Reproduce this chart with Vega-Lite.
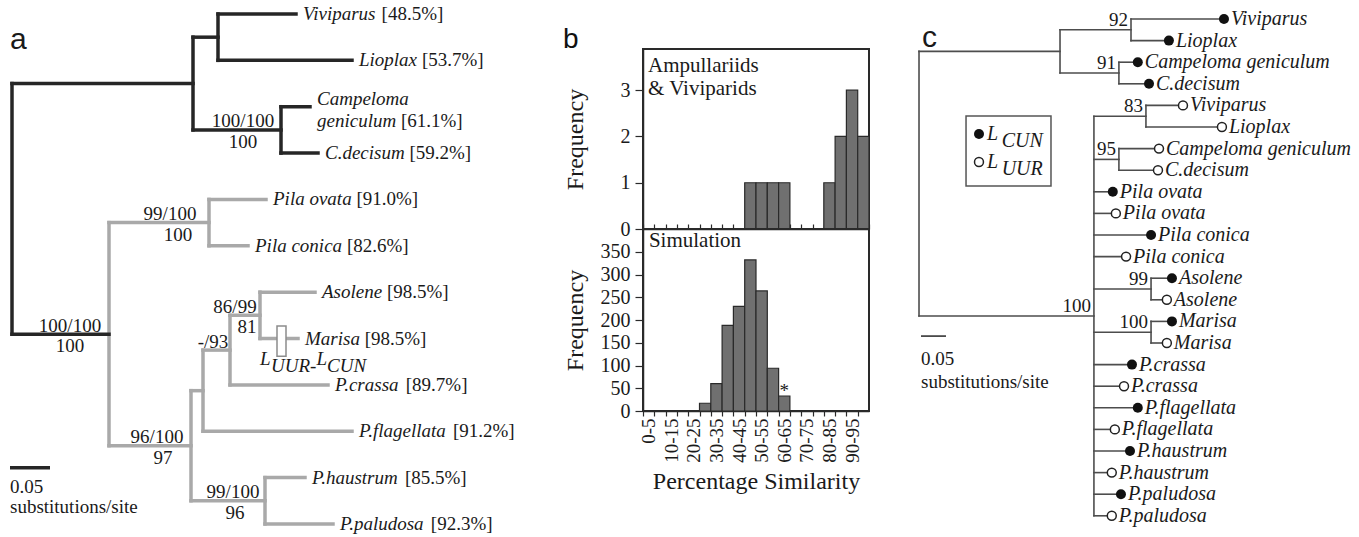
{
  "$schema": "https://vega.github.io/schema/vega-lite/v6.json",
  "padding": 0,
  "background": "white",
  "spacing": 0,
  "config": {
    "font": "Liberation Serif",
    "axis": {"grid": false, "labelFont": "Liberation Serif", "titleFont": "Liberation Serif", "titleFontWeight": "normal", "labelColor": "#1a1a1a", "titleColor": "#1a1a1a", "domainColor": "#2a2a2a", "tickColor": "#2a2a2a", "domainWidth": 1.5, "tickWidth": 1.2},
    "text": {"font": "Liberation Serif", "color": "#1a1a1a"}
  },
  "datasets": {
    "aSeg": [
      {"x": 0.12125, "x2": 0.12125, "y": 4.5, "y2": 9.3125, "c": "a"},
      {"x": 0.12125, "x2": 0.24625, "y": 4.5, "y2": 4.5, "c": "a"},
      {"x": 0.24625, "x2": 0.24625, "y": 4, "y2": 5, "c": "a"},
      {"x": 0.24625, "x2": 0.3175, "y": 4, "y2": 4, "c": "a"},
      {"x": 0.24625, "x2": 0.295, "y": 5, "y2": 5, "c": "a"},
      {"x": 0.12125, "x2": 0.22375, "y": 9.3125, "y2": 9.3125, "c": "a"},
      {"x": 0.22375, "x2": 0.22375, "y": 8.125, "y2": 10.5, "c": "a"},
      {"x": 0.22375, "x2": 0.23875, "y": 8.125, "y2": 8.125, "c": "a"},
      {"x": 0.23875, "x2": 0.23875, "y": 7.25, "y2": 9, "c": "a"},
      {"x": 0.23875, "x2": 0.2725, "y": 7.25, "y2": 7.25, "c": "a"},
      {"x": 0.2725, "x2": 0.2725, "y": 6.5, "y2": 8, "c": "a"},
      {"x": 0.2725, "x2": 0.31, "y": 6.5, "y2": 6.5, "c": "a"},
      {"x": 0.31, "x2": 0.31, "y": 6, "y2": 7, "c": "a"},
      {"x": 0.31, "x2": 0.37875, "y": 6, "y2": 6, "c": "a"},
      {"x": 0.31, "x2": 0.3575, "y": 7, "y2": 7, "c": "a"},
      {"x": 0.2725, "x2": 0.395, "y": 8, "y2": 8, "c": "a"},
      {"x": 0.23875, "x2": 0.425, "y": 9, "y2": 9, "c": "a"},
      {"x": 0.22375, "x2": 0.31625, "y": 10.5, "y2": 10.5, "c": "a"},
      {"x": 0.31625, "x2": 0.31625, "y": 10, "y2": 11, "c": "a"},
      {"x": 0.31625, "x2": 0.36625, "y": 10, "y2": 10, "c": "a"},
      {"x": 0.31625, "x2": 0.40125, "y": 11, "y2": 11, "c": "a"},
      {"x": 0, "x2": 0, "y": 1.5, "y2": 6.906, "c": "v"},
      {"x": 0, "x2": 0.12125, "y": 6.906, "y2": 6.906, "c": "v"},
      {"x": 0, "x2": 0.22625, "y": 1.5, "y2": 1.5, "c": "v"},
      {"x": 0.22625, "x2": 0.22625, "y": 0.5, "y2": 2.5, "c": "v"},
      {"x": 0.22625, "x2": 0.2575, "y": 0.5, "y2": 0.5, "c": "v"},
      {"x": 0.2575, "x2": 0.2575, "y": 0, "y2": 1, "c": "v"},
      {"x": 0.2575, "x2": 0.355, "y": 0, "y2": 0, "c": "v"},
      {"x": 0.2575, "x2": 0.425, "y": 1, "y2": 1, "c": "v"},
      {"x": 0.22625, "x2": 0.33625, "y": 2.5, "y2": 2.5, "c": "v"},
      {"x": 0.33625, "x2": 0.33625, "y": 2, "y2": 3, "c": "v"},
      {"x": 0.33625, "x2": 0.3725, "y": 2, "y2": 2, "c": "v"},
      {"x": 0.33625, "x2": 0.3825, "y": 3, "y2": 3, "c": "v"}
    ],
    "aLab": [
      {"t": "Viviparus", "x": 0.355, "y": 0},
      {"t": "Lioplax", "x": 0.425, "y": 1},
      {"t": "Campeloma", "x": 0.3725, "y": 1.83},
      {"t": "geniculum", "x": 0.3725, "y": 2.31},
      {"t": "C.decisum", "x": 0.3825, "y": 3},
      {"t": "Pila ovata", "x": 0.3175, "y": 4},
      {"t": "Pila conica", "x": 0.295, "y": 5},
      {"t": "Asolene", "x": 0.37875, "y": 6},
      {"t": "Marisa", "x": 0.3575, "y": 7},
      {"t": "P.crassa", "x": 0.395, "y": 8},
      {"t": "P.flagellata", "x": 0.425, "y": 9},
      {"t": "P.haustrum", "x": 0.36625, "y": 10},
      {"t": "P.paludosa", "x": 0.40125, "y": 11}
    ],
    "aPct": [
      {"t": "[48.5%]", "x": 0.462, "y": 0},
      {"t": "[53.7%]", "x": 0.5124, "y": 1},
      {"t": "[61.1%]", "x": 0.4862, "y": 2.31},
      {"t": "[59.2%]", "x": 0.4968, "y": 3},
      {"t": "[91.0%]", "x": 0.4305, "y": 4},
      {"t": "[82.6%]", "x": 0.4186, "y": 5},
      {"t": "[98.5%]", "x": 0.4687, "y": 6},
      {"t": "[98.5%]", "x": 0.4408, "y": 7},
      {"t": "[89.7%]", "x": 0.4922, "y": 8},
      {"t": "[91.2%]", "x": 0.5512, "y": 9},
      {"t": "[85.5%]", "x": 0.4911, "y": 10},
      {"t": "[92.3%]", "x": 0.5235, "y": 11}
    ],
    "aSup": [
      {"t": "100/100", "x": 0.28875, "y": 2.5, "pos": "above"},
      {"t": "100", "x": 0.28875, "y": 2.5, "pos": "below"},
      {"t": "100/100", "x": 0.0725, "y": 6.906, "pos": "above"},
      {"t": "100", "x": 0.0725, "y": 6.906, "pos": "below"},
      {"t": "99/100", "x": 0.1975, "y": 4.5, "pos": "above"},
      {"t": "100", "x": 0.2075, "y": 4.5, "pos": "below"},
      {"t": "96/100", "x": 0.18125, "y": 9.3125, "pos": "above"},
      {"t": "97", "x": 0.18875, "y": 9.3125, "pos": "below"},
      {"t": "-/93", "x": 0.25125, "y": 7.25, "pos": "above"},
      {"t": "86/99", "x": 0.27875, "y": 6.5, "pos": "above"},
      {"t": "81", "x": 0.29375, "y": 6.5, "pos": "below"},
      {"t": "99/100", "x": 0.27625, "y": 10.5, "pos": "above"},
      {"t": "96", "x": 0.27875, "y": 10.5, "pos": "below"}
    ],
    "bTop": [
      {"s": 45, "e": 50, "n": 1},
      {"s": 50, "e": 55, "n": 1},
      {"s": 55, "e": 60, "n": 1},
      {"s": 60, "e": 65, "n": 1},
      {"s": 80, "e": 85, "n": 1},
      {"s": 85, "e": 90, "n": 2},
      {"s": 90, "e": 95, "n": 3},
      {"s": 95, "e": 100, "n": 2}
    ],
    "bSim": [
      {"s": 25, "e": 30, "n": 17},
      {"s": 30, "e": 35, "n": 60},
      {"s": 35, "e": 40, "n": 188},
      {"s": 40, "e": 45, "n": 230},
      {"s": 45, "e": 50, "n": 332},
      {"s": 50, "e": 55, "n": 264},
      {"s": 55, "e": 60, "n": 94},
      {"s": 60, "e": 65, "n": 33}
    ],
    "cSeg": [
      {"x": 0, "x2": 0, "y": 1.5, "y2": 13.75},
      {"x": 0, "x2": 0.2765, "y": 1.5, "y2": 1.5},
      {"x": 0.2765, "x2": 0.2765, "y": 0.5, "y2": 2.5},
      {"x": 0.2765, "x2": 0.4157, "y": 0.5, "y2": 0.5},
      {"x": 0.4157, "x2": 0.4157, "y": 0, "y2": 1},
      {"x": 0.4157, "x2": 0.598, "y": 0, "y2": 0},
      {"x": 0.4157, "x2": 0.49, "y": 1, "y2": 1},
      {"x": 0.2765, "x2": 0.392, "y": 2.5, "y2": 2.5},
      {"x": 0.392, "x2": 0.392, "y": 2, "y2": 3},
      {"x": 0.392, "x2": 0.429, "y": 2, "y2": 2},
      {"x": 0.392, "x2": 0.451, "y": 3, "y2": 3},
      {"x": 0, "x2": 0.343, "y": 13.75, "y2": 13.75},
      {"x": 0.343, "x2": 0.343, "y": 4.5, "y2": 23},
      {"x": 0.343, "x2": 0.445, "y": 4.5, "y2": 4.5},
      {"x": 0.445, "x2": 0.445, "y": 4, "y2": 5},
      {"x": 0.445, "x2": 0.5176, "y": 4, "y2": 4},
      {"x": 0.445, "x2": 0.594, "y": 5, "y2": 5},
      {"x": 0.343, "x2": 0.392, "y": 6.5, "y2": 6.5},
      {"x": 0.392, "x2": 0.392, "y": 6, "y2": 7},
      {"x": 0.392, "x2": 0.4706, "y": 6, "y2": 6},
      {"x": 0.392, "x2": 0.4686, "y": 7, "y2": 7},
      {"x": 0.343, "x2": 0.38, "y": 8, "y2": 8},
      {"x": 0.343, "x2": 0.386, "y": 9, "y2": 9},
      {"x": 0.343, "x2": 0.455, "y": 10, "y2": 10},
      {"x": 0.343, "x2": 0.406, "y": 11, "y2": 11},
      {"x": 0.343, "x2": 0.455, "y": 12.5, "y2": 12.5},
      {"x": 0.455, "x2": 0.455, "y": 12, "y2": 13},
      {"x": 0.455, "x2": 0.496, "y": 12, "y2": 12},
      {"x": 0.455, "x2": 0.486, "y": 13, "y2": 13},
      {"x": 0.343, "x2": 0.455, "y": 14.5, "y2": 14.5},
      {"x": 0.455, "x2": 0.455, "y": 14, "y2": 15},
      {"x": 0.455, "x2": 0.496, "y": 14, "y2": 14},
      {"x": 0.455, "x2": 0.486, "y": 15, "y2": 15},
      {"x": 0.343, "x2": 0.4176, "y": 16, "y2": 16},
      {"x": 0.343, "x2": 0.402, "y": 17, "y2": 17},
      {"x": 0.343, "x2": 0.429, "y": 18, "y2": 18},
      {"x": 0.343, "x2": 0.384, "y": 19, "y2": 19},
      {"x": 0.343, "x2": 0.4137, "y": 20, "y2": 20},
      {"x": 0.343, "x2": 0.378, "y": 21, "y2": 21},
      {"x": 0.343, "x2": 0.396, "y": 22, "y2": 22},
      {"x": 0.343, "x2": 0.378, "y": 23, "y2": 23}
    ],
    "cTip": [
      {"t": "Viviparus", "x": 0.598, "y": 0, "f": true},
      {"t": "Lioplax", "x": 0.49, "y": 1, "f": true},
      {"t": "Campeloma geniculum", "x": 0.429, "y": 2, "f": true},
      {"t": "C.decisum", "x": 0.451, "y": 3, "f": true},
      {"t": "Viviparus", "x": 0.5176, "y": 4, "f": false},
      {"t": "Lioplax", "x": 0.594, "y": 5, "f": false},
      {"t": "Campeloma geniculum", "x": 0.4706, "y": 6, "f": false},
      {"t": "C.decisum", "x": 0.4686, "y": 7, "f": false},
      {"t": "Pila ovata", "x": 0.38, "y": 8, "f": true},
      {"t": "Pila ovata", "x": 0.386, "y": 9, "f": false},
      {"t": "Pila conica", "x": 0.455, "y": 10, "f": true},
      {"t": "Pila conica", "x": 0.406, "y": 11, "f": false},
      {"t": "Asolene", "x": 0.496, "y": 12, "f": true},
      {"t": "Asolene", "x": 0.486, "y": 13, "f": false},
      {"t": "Marisa", "x": 0.496, "y": 14, "f": true},
      {"t": "Marisa", "x": 0.486, "y": 15, "f": false},
      {"t": "P.crassa", "x": 0.4176, "y": 16, "f": true},
      {"t": "P.crassa", "x": 0.402, "y": 17, "f": false},
      {"t": "P.flagellata", "x": 0.429, "y": 18, "f": true},
      {"t": "P.flagellata", "x": 0.384, "y": 19, "f": false},
      {"t": "P.haustrum", "x": 0.4137, "y": 20, "f": true},
      {"t": "P.haustrum", "x": 0.378, "y": 21, "f": false},
      {"t": "P.paludosa", "x": 0.396, "y": 22, "f": true},
      {"t": "P.paludosa", "x": 0.378, "y": 23, "f": false}
    ],
    "cSup": [
      {"t": "92", "x": 0.4157, "y": 0.5},
      {"t": "91", "x": 0.392, "y": 2.5},
      {"t": "83", "x": 0.445, "y": 4.5},
      {"t": "95", "x": 0.392, "y": 6.5},
      {"t": "99", "x": 0.455, "y": 12.5},
      {"t": "100", "x": 0.455, "y": 14.5},
      {"t": "100", "x": 0.343, "y": 13.75}
    ]
  },
  "hconcat": [
    {
      "width": 562,
      "height": 487,
      "view": {"stroke": null},
      "encoding": {
        "x": {"field": "x", "type": "quantitative", "scale": {"domain": [-0.015, 0.6875], "nice": false, "zero": false}, "axis": null},
        "y": {"field": "y", "type": "quantitative", "scale": {"domain": [0.755, 11.2597], "nice": false, "zero": false, "reverse": true}, "axis": null}
      },
      "layer": [
        {
          "data": {"name": "aSeg"},
          "mark": {"type": "rule", "strokeWidth": 3.5, "strokeCap": "square"},
          "encoding": {
            "x2": {"field": "x2"},
            "y2": {"field": "y2"},
            "color": {"field": "c", "type": "nominal", "scale": {"domain": ["a", "v"], "range": ["#a9a9a9", "#262626"]}, "legend": null}
          }
        },
        {
          "data": {"values": [{"x": 0.33125, "x2": 0.3425, "y": 6.73, "y2": 7.38}]},
          "mark": {"type": "rect", "fill": "white", "stroke": "#8c8c8c", "strokeWidth": 1.5},
          "encoding": {"x2": {"field": "x2"}, "y2": {"field": "y2"}}
        },
        {
          "data": {"name": "aLab"},
          "mark": {"type": "text", "align": "left", "baseline": "middle", "dx": 7, "fontSize": 19, "fontStyle": "italic"},
          "encoding": {"text": {"field": "t"}}
        },
        {
          "data": {"name": "aPct"},
          "mark": {"type": "text", "align": "left", "baseline": "middle", "fontSize": 19},
          "encoding": {"text": {"field": "t"}}
        },
        {
          "data": {"name": "aSup"},
          "transform": [{"filter": "datum.pos == 'above'"}],
          "mark": {"type": "text", "align": "center", "baseline": "bottom", "dy": 1.5, "fontSize": 19},
          "encoding": {"text": {"field": "t"}}
        },
        {
          "data": {"name": "aSup"},
          "transform": [{"filter": "datum.pos == 'below'"}],
          "mark": {"type": "text", "align": "center", "baseline": "top", "dy": 3, "fontSize": 19},
          "encoding": {"text": {"field": "t"}}
        },
        {
          "data": {"values": [{"x": -0.0025, "x2": 0.0475, "y": 9.79}]},
          "mark": {"type": "rule", "strokeWidth": 3.5, "color": "#262626"},
          "encoding": {"x2": {"field": "x2"}}
        },
        {
          "data": {"values": [{"x": -0.0025, "y": 10.2, "t": "0.05"}, {"x": -0.0025, "y": 10.63, "t": "substitutions/site"}]},
          "mark": {"type": "text", "align": "left", "baseline": "middle", "fontSize": 19},
          "encoding": {"text": {"field": "t"}}
        },
        {
          "data": {"values": [{"x": 0.31, "y": 7.45, "t": "L"}, {"x": 0.3238, "y": 7.6, "t": "UUR-"}, {"x": 0.3805, "y": 7.45, "t": "L"}, {"x": 0.3938, "y": 7.6, "t": "CUN"}]},
          "mark": {"type": "text", "align": "left", "baseline": "middle", "fontSize": 19, "fontStyle": "italic"},
          "encoding": {"text": {"field": "t"}}
        },
        {
          "data": {"values": [{"x": -0.0025, "y": 0.755, "t": "a"}]},
          "mark": {"type": "text", "align": "left", "baseline": "alphabetic", "font": "Liberation Sans", "fontSize": 30},
          "encoding": {"text": {"field": "t"}}
        }
      ]
    },
    {
      "spacing": 0,
      "bounds": "flush",
      "vconcat": [
        {
          "width": 226,
          "height": 180,
          "title": {"text": ["", "b"], "anchor": "start", "frame": "bounds", "font": "Liberation Sans", "fontSize": 28, "fontWeight": "normal", "color": "#111", "lineHeight": 25, "offset": 0, "dy": 5},
          "view": {"stroke": "#2a2a2a", "strokeWidth": 2},
          "encoding": {
            "x": {"field": "s", "type": "quantitative", "scale": {"domain": [0, 100], "nice": false, "zero": false}, "axis": {"values": [0, 5, 10, 15, 20, 25, 30, 35, 40, 45, 50, 55, 60, 65, 70, 75, 80, 85, 90, 95, 100], "labels": false, "tickSize": -5, "labelPadding": 0, "minExtent": 0, "maxExtent": 0, "title": null}},
            "y": {"field": "n", "type": "quantitative", "scale": {"domain": [0, 3.89], "nice": false}, "axis": {"values": [0, 1, 2, 3], "title": "Frequency", "titleFontSize": 24, "titlePadding": 12, "labelFontSize": 20, "tickSize": 8, "labelPadding": 5, "minExtent": 44, "maxExtent": 44}}
          },
          "layer": [
            {
              "data": {"name": "bTop"},
              "mark": {"type": "bar", "fill": "#707070", "stroke": "#2a2a2a", "strokeWidth": 1.2},
              "encoding": {"x2": {"field": "e"}, "y2": {"datum": 0}}
            },
            {
              "data": {"values": [{"s": 2.2, "n": 3.52, "t": "Ampullariids"}, {"s": 2.2, "n": 3.03, "t": "& Viviparids"}]},
              "mark": {"type": "text", "align": "left", "baseline": "middle", "fontSize": 21},
              "encoding": {"text": {"field": "t"}}
            }
          ]
        },
        {
          "width": 226,
          "height": 182,
          "view": {"stroke": "#2a2a2a", "strokeWidth": 2},
          "encoding": {
            "x": {"field": "s", "type": "quantitative", "scale": {"domain": [0, 100], "nice": false, "zero": false}, "axis": {"values": [0, 5, 10, 15, 20, 25, 30, 35, 40, 45, 50, 55, 60, 65, 70, 75, 80, 85, 90, 95], "labelExpr": "datum.value % 10 == 0 ? datum.value + '-' + (datum.value + 5) : ''", "labelAngle": 270, "labelAlign": "right", "labelBaseline": "middle", "labelOffset": 5.65, "labelFontSize": 19, "labelPadding": 2, "tickSize": 5, "labelOverlap": false, "labelFlush": false, "title": "Percentage Similarity", "titleFontSize": 24, "titlePadding": 7}},
            "y": {"field": "n", "type": "quantitative", "scale": {"domain": [0, 400], "nice": false}, "axis": {"values": [0, 50, 100, 150, 200, 250, 300, 350], "title": "Frequency", "titleFontSize": 24, "titlePadding": 12, "labelFontSize": 20, "tickSize": 8, "labelPadding": 5, "minExtent": 44, "maxExtent": 44}}
          },
          "layer": [
            {
              "data": {"name": "bSim"},
              "mark": {"type": "bar", "fill": "#707070", "stroke": "#2a2a2a", "strokeWidth": 1.2},
              "encoding": {"x2": {"field": "e"}, "y2": {"datum": 0}}
            },
            {
              "data": {"values": [{"s": 2.6, "n": 374, "t": "Simulation"}]},
              "mark": {"type": "text", "align": "left", "baseline": "middle", "fontSize": 21},
              "encoding": {"text": {"field": "t"}}
            },
            {
              "data": {"values": [{"s": 62.5, "n": 33, "t": "*"}]},
              "mark": {"type": "text", "align": "center", "baseline": "bottom", "dy": 5, "fontSize": 19},
              "encoding": {"text": {"field": "t"}}
            }
          ]
        }
      ]
    },
    {
      "width": 486,
      "height": 487,
      "view": {"stroke": null},
      "encoding": {
        "x": {"field": "x", "type": "quantitative", "scale": {"domain": [-0.0863, 0.8667], "nice": false, "zero": false}, "axis": null},
        "y": {"field": "y", "type": "quantitative", "scale": {"domain": [1.389, 23.935], "nice": false, "zero": false, "reverse": true}, "axis": null}
      },
      "layer": [
        {
          "data": {"name": "cSeg"},
          "mark": {"type": "rule", "strokeWidth": 1.6, "color": "#4d4d4d", "strokeCap": "square"},
          "encoding": {"x2": {"field": "x2"}, "y2": {"field": "y2"}}
        },
        {
          "data": {"values": [{"x": 0.0922, "x2": 0.2588, "y": 4.49, "y2": 7.73}]},
          "mark": {"type": "rect", "fill": "white", "stroke": "#555", "strokeWidth": 1.5},
          "encoding": {"x2": {"field": "x2"}, "y2": {"field": "y2"}}
        },
        {
          "data": {"name": "cTip"},
          "transform": [{"filter": "datum.f"}],
          "mark": {"type": "point", "shape": "circle", "filled": true, "size": 100, "color": "#111", "opacity": 1}
        },
        {
          "data": {"name": "cTip"},
          "transform": [{"filter": "!datum.f"}],
          "mark": {"type": "point", "shape": "circle", "size": 80, "fill": "white", "stroke": "#222", "strokeWidth": 1.5, "opacity": 1}
        },
        {
          "data": {"name": "cTip"},
          "mark": {"type": "text", "align": "left", "baseline": "middle", "dx": 7, "fontSize": 20, "fontStyle": "italic"},
          "encoding": {"text": {"field": "t"}}
        },
        {
          "data": {"name": "cSup"},
          "mark": {"type": "text", "align": "right", "baseline": "bottom", "dx": -3, "fontSize": 19},
          "encoding": {"text": {"field": "t"}}
        },
        {
          "data": {"values": [{"x": 0.1176, "y": 5.32}]},
          "mark": {"type": "point", "shape": "circle", "filled": true, "size": 100, "color": "#111", "opacity": 1}
        },
        {
          "data": {"values": [{"x": 0.1176, "y": 6.62}]},
          "mark": {"type": "point", "shape": "circle", "size": 80, "fill": "white", "stroke": "#222", "strokeWidth": 1.5, "opacity": 1}
        },
        {
          "data": {"values": [{"x": 0.1333, "y": 5.32, "t": "L"}, {"x": 0.1333, "y": 6.62, "t": "L"}]},
          "mark": {"type": "text", "align": "left", "baseline": "middle", "fontSize": 20, "fontStyle": "italic"},
          "encoding": {"text": {"field": "t"}}
        },
        {
          "data": {"values": [{"x": 0.162, "y": 5.32, "t": "CUN"}, {"x": 0.162, "y": 6.62, "t": "UUR"}]},
          "mark": {"type": "text", "align": "left", "baseline": "middle", "dy": 7, "fontSize": 20, "fontStyle": "italic"},
          "encoding": {"text": {"field": "t"}}
        },
        {
          "data": {"values": [{"x": 0.0039, "x2": 0.0529, "y": 14.68}]},
          "mark": {"type": "rule", "strokeWidth": 1.6, "color": "#333"},
          "encoding": {"x2": {"field": "x2"}}
        },
        {
          "data": {"values": [{"x": 0.0039, "y": 15.74, "t": "0.05"}, {"x": 0.0039, "y": 16.8, "t": "substitutions/site"}]},
          "mark": {"type": "text", "align": "left", "baseline": "middle", "fontSize": 19},
          "encoding": {"text": {"field": "t"}}
        },
        {
          "data": {"values": [{"x": 0.0059, "y": 1.296, "t": "c"}]},
          "mark": {"type": "text", "align": "left", "baseline": "alphabetic", "font": "Liberation Sans", "fontSize": 30},
          "encoding": {"text": {"field": "t"}}
        }
      ]
    }
  ]
}
